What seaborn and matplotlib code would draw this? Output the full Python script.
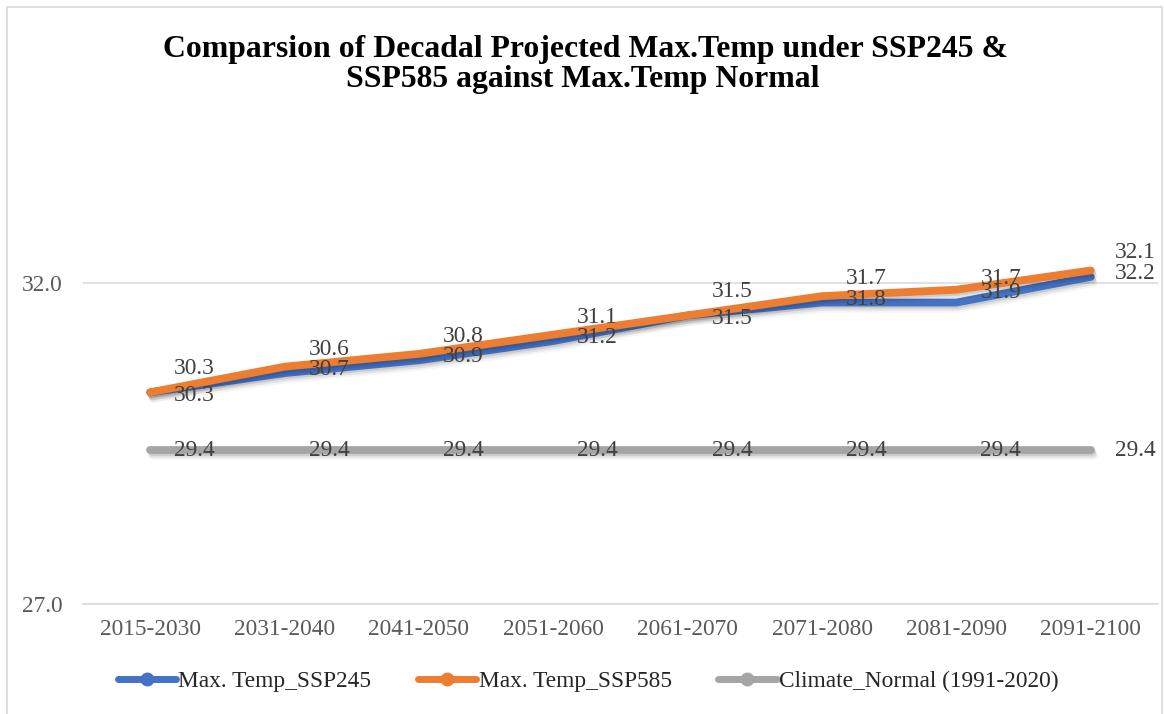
import matplotlib
matplotlib.use("Agg")
import matplotlib.pyplot as plt
import matplotlib.patheffects as pe
from matplotlib.lines import Line2D
from matplotlib.patches import Rectangle
import pandas as pd
import seaborn as sns

# Decadal periods and projected maximum temperature (°C)
periods = ["2015-2030", "2031-2040", "2041-2050", "2051-2060",
           "2061-2070", "2071-2080", "2081-2090", "2091-2100"]
ssp245 = [30.3, 30.6, 30.8, 31.1, 31.5, 31.7, 31.7, 32.1]
ssp585 = [30.3, 30.7, 30.9, 31.2, 31.5, 31.8, 31.9, 32.2]
normal = [29.4, 29.4, 29.4, 29.4, 29.4, 29.4, 29.4, 29.4]

series_names = ["Max. Temp_SSP245", "Max. Temp_SSP585", "Climate_Normal (1991-2020)"]
colors = ["#4472C4", "#ED7D31", "#A5A5A5"]
title_lines = ["Comparsion of Decadal Projected Max.Temp under SSP245 &",
               "SSP585 against Max.Temp Normal"]
y_ticks = [27.0, 32.0]

sns.set_theme(style="white")
plt.rcParams["font.family"] = ["Liberation Serif", "DejaVu Serif"]

W, H = 1164, 714
fig = plt.figure(figsize=(W / 100, H / 100), dpi=100)
ax = fig.add_axes([83 / W, 1 - 604 / H, (1158 - 83) / W, (604 - 130) / H])

FS = 16.8
LW = 5.6
label_color = "#404040"

df = pd.DataFrame({"period": periods * 3,
                   "value": ssp245 + ssp585 + normal,
                   "series": [series_names[0]] * 8 + [series_names[1]] * 8 + [series_names[2]] * 8})

# soft drop shadow built from a few faint offset strokes
shadow = [pe.SimpleLineShadow(offset=(1.0, -1.5), shadow_color="black", alpha=0.10),
          pe.SimpleLineShadow(offset=(1.5, -3.0), shadow_color="black", alpha=0.07),
          pe.SimpleLineShadow(offset=(2.0, -4.5), shadow_color="black", alpha=0.04),
          pe.Normal()]

draw_order = [2, 0, 1]
for k in draw_order:
    sub = df[df["series"] == series_names[k]]
    sns.lineplot(data=sub, x="period", y="value", ax=ax, color=colors[k],
                 linewidth=LW, sort=False, legend=False, errorbar=None)
    line = ax.lines[-1]
    line.set_solid_capstyle("round")
    line.set_solid_joinstyle("round")
    line.set_path_effects(shadow)

# value labels to the right of each point
for i in range(len(periods)):
    ax.annotate(f"{normal[i]:.1f}", (i, normal[i]), xytext=(24, 0),
                textcoords="offset pixels", ha="left", va="center",
                fontsize=FS, color=label_color)
    ax.annotate(f"{ssp585[i]:.1f}", (i, ssp585[i]), xytext=(24, -3),
                textcoords="offset pixels", ha="left", va="center",
                fontsize=FS, color=label_color)
    ax.annotate(f"{ssp245[i]:.1f}", (i, ssp245[i]), xytext=(24, 24),
                textcoords="offset pixels", ha="left", va="center",
                fontsize=FS, color=label_color)

ax.set_xlim(-0.5, len(periods) - 0.5)
ax.set_ylim(27, 27 + (604 - 130) / 64.14)
ax.set_yticks(y_ticks)
ax.set_yticklabels([f"{v:.1f}" for v in y_ticks])
ax.set_xlabel("")
ax.set_ylabel("")
ax.tick_params(axis="y", length=0, pad=15, labelsize=FS, labelcolor="#595959")
ax.tick_params(axis="x", length=0, pad=11, labelsize=FS, labelcolor="#595959")
ax.yaxis.grid(True, color="#D9D9D9", linewidth=1.1)
ax.set_axisbelow(True)
for s in ["top", "right", "left"]:
    ax.spines[s].set_visible(False)
ax.spines["bottom"].set_color("#D9D9D9")
ax.spines["bottom"].set_linewidth(1.1)

# title
fig.text(0.503, 1 - 56.7 / H, title_lines[0], ha="center", va="baseline",
         fontsize=22.9, fontweight="bold", color="black")
fig.text(0.501, 1 - 87.5 / H, title_lines[1], ha="center", va="baseline",
         fontsize=22.9, fontweight="bold", color="black")

# legend
handles = [Line2D([0], [0], color=c, lw=5, marker="o", markersize=9,
                  solid_capstyle="round") for c in colors]
fig.legend(handles, series_names, loc="center", ncol=3,
           bbox_to_anchor=(588 / W, 1 - 681 / H), frameon=False,
           fontsize=FS, handlelength=2.5, handletextpad=0.1,
           columnspacing=2.0, labelcolor="#262626")

# chart border
fig.add_artist(Rectangle((7 / W, -0.02), (1162 - 7) / W, 1.02 - 7 / H,
                         transform=fig.transFigure, fill=False,
                         edgecolor="#D9D9D9", linewidth=1.2))

fig.savefig("out.png", dpi=100, facecolor="white")
